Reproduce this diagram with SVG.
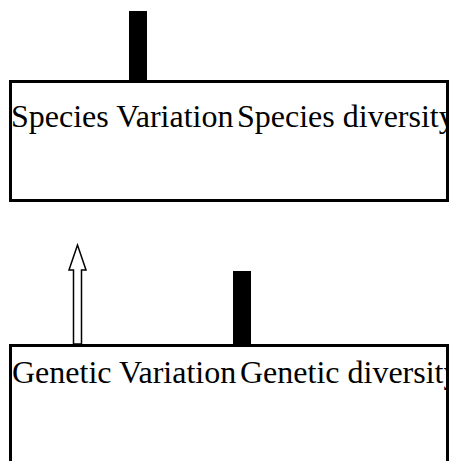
<svg xmlns="http://www.w3.org/2000/svg" width="449" height="461" viewBox="0 0 449 461">
<style>
.box{fill:#fff;stroke:#000;stroke-width:3}
.frame{fill:none;stroke:#000;stroke-width:3}
.lbl{font-family:"Liberation Serif","Times New Roman",serif;font-size:32px;fill:#000}
.bar{fill:#000}
.hollow{fill:#fff;stroke:#000;stroke-width:1.5;stroke-linejoin:miter}
</style>
<defs>
<clipPath id="c1"><rect x="10" y="81" width="437" height="119"/></clipPath>
<clipPath id="c2"><rect x="10" y="346" width="437" height="120"/></clipPath>
</defs>
<g id="species">
<rect class="box" x="10.5" y="81.5" width="437" height="119"/>
<g clip-path="url(#c1)">
<text class="lbl" x="11" y="127">Species Variation</text>
<text class="lbl" x="237" y="127">Species diversity</text>
</g>
<rect class="frame" x="10.5" y="81.5" width="437" height="119"/>
</g>
<g id="genetic">
<rect class="box" x="10.5" y="345.5" width="437" height="130"/>
<g clip-path="url(#c2)">
<text class="lbl" x="12" y="383">Genetic Variation</text>
<text class="lbl" x="240" y="383">Genetic diversity</text>
</g>
<rect class="frame" x="10.5" y="345.5" width="437" height="130"/>
</g>
<g id="connectors">
<rect class="bar" x="129" y="11" width="18" height="70"/>
<rect class="bar" x="233" y="271" width="18" height="74"/>
<polygon class="hollow" points="77.5,245 69,270 73.5,270 73.5,344 81.5,344 81.5,270 86,270"/>
</g>
</svg>
